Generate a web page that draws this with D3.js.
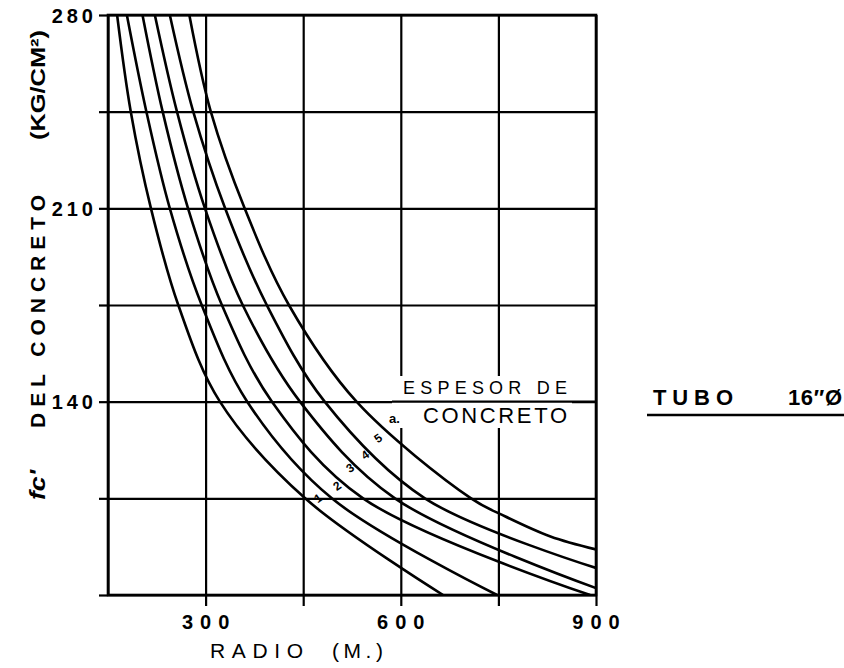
<!DOCTYPE html>
<html><head><meta charset="utf-8">
<script src="https://cdn.jsdelivr.net/npm/d3@7/dist/d3.min.js"></script>
<style>
html,body{margin:0;padding:0;background:#fff;}
svg{display:block;}
text{font-family:"Liberation Sans",Arial,sans-serif;fill:#000;}
</style></head>
<body>
<svg id="chart" width="844" height="668"></svg>
<script>
// ---- data ----
const xTicks = [150, 300, 450, 600, 750, 900];
const xTickLabels = ["", "300", "", "600", "", "900"];
const yTicks = [70, 105, 140, 175, 210, 245, 280];
const yTickLabels = ["", "", "140", "", "210", "", "280"];
// each curve: [radio (m), fc (kg/cm2)]
const curve1 = [[164,280],[185,245],[216,210],[258,175],[322,140],[453,105],[665,70]];
const curve2 = [[179,280],[209,245],[245,210],[294,175],[364,140],[494,105],[748,70]];
const curve3 = [[203,280],[234,245],[273,210],[325,175],[402,140],[542,105],[891,70]];
const curve4 = [[222,280],[256,245],[299,210],[357,175],[445,140],[591,105],[900,72.5]];
const curve5 = [[245,280],[281,245],[330,210],[394,175],[483,140],[637,105],[900,79.8]];
const curve6 = [[275,280],[308,245],[360,210],[428,175],[532,140],[708,105],[760,98.5],[830,91.2],[900,86.5]];
const curves = [curve1, curve2, curve3, curve4, curve5, curve6];
const curveLabels = ["1", "2", "3", "4", "5"];
const curveLabelAt = [[473,105.1],[502,109.5],[522,116],[545,120.7],[565,126.8]];

// ---- layout ----
const svg = d3.select("#chart");
const L = 108, R = 596, T = 15, B = 595;
const x = d3.scaleLinear().domain([150, 900]).range([L, R]);
const y = d3.scaleLinear().domain([70, 280]).range([B, T]);

// grid
const gx = svg.append("g").attr("transform", `translate(0,${B})`)
  .call(d3.axisBottom(x).tickValues(xTicks).tickSize(-(B - T)).tickFormat(""));
gx.select(".domain").remove();
gx.selectAll("line").attr("stroke", "#000").attr("stroke-width", 2.2);
const gy = svg.append("g").attr("transform", `translate(${L},0)`)
  .call(d3.axisLeft(y).tickValues(yTicks).tickSize(-(R - L)).tickFormat(""));
gy.select(".domain").remove();
gy.selectAll("line").attr("stroke", "#000").attr("stroke-width", 2.2);

// outer stubs + labels
const ax = svg.append("g").attr("transform", `translate(0,${B})`)
  .call(d3.axisBottom(x).tickValues(xTicks.slice(1)).tickSize(11).tickPadding(4)
    .tickFormat((d) => xTickLabels[xTicks.indexOf(d)]));
ax.select(".domain").remove();
ax.selectAll("line").attr("stroke", "#000").attr("stroke-width", 2.2);
ax.selectAll("text").attr("font-size", 20).attr("font-weight", "bold")
  .attr("letter-spacing", "7px").attr("dx", "3px").attr("dy", "0.95em");

const ay = svg.append("g").attr("transform", `translate(${L},0)`)
  .call(d3.axisLeft(y).tickValues(yTicks).tickSize(9).tickPadding(2)
    .tickFormat((d) => yTickLabels[yTicks.indexOf(d)]));
ay.select(".domain").remove();
ay.selectAll("line").attr("stroke", "#000").attr("stroke-width", 2.2);
ay.selectAll("text").attr("font-size", 20).attr("font-weight", "bold")
  .attr("letter-spacing", "4px").attr("dy", "0.36em");

// border
svg.append("rect").attr("x", L).attr("y", T).attr("width", R - L).attr("height", B - T)
  .attr("fill", "none").attr("stroke", "#000").attr("stroke-width", 2.6);

// clip
svg.append("clipPath").attr("id", "clip").append("rect")
  .attr("x", L).attr("y", T).attr("width", R - L).attr("height", B - T);

// curves
const line = d3.line().x((d) => x(d[0])).y((d) => y(d[1])).curve(d3.curveCatmullRom.alpha(0.5));
svg.append("g").attr("clip-path", "url(#clip)")
  .selectAll("path").data(curves).join("path")
  .attr("d", line).attr("fill", "none").attr("stroke", "#000").attr("stroke-width", 2.6);

// legend box "ESPESOR DE / CONCRETO"
svg.append("rect").attr("x", 392).attr("y", 376).attr("width", 180).attr("height", 52).attr("fill", "#fff");
svg.append("line").attr("x1", 392).attr("x2", R).attr("y1", y(140)).attr("y2", y(140))
  .attr("stroke", "#000").attr("stroke-width", 2.2);
svg.append("text").attr("x", 403).attr("y", 394).attr("font-size", 18)
  .attr("textLength", 164).attr("lengthAdjust", "spacing").text("ESPESOR DE");
svg.append("text").attr("x", 423).attr("y", 423).attr("font-size", 22)
  .attr("textLength", 144).attr("lengthAdjust", "spacing").text("CONCRETO");
svg.append("text").attr("x", 389).attr("y", 423).attr("font-size", 13).attr("font-weight", "bold").text("a.");

// curve labels
svg.append("g").selectAll("text").data(curveLabels).join("text")
  .attr("transform", (d, i) => `translate(${x(curveLabelAt[i][0])},${y(curveLabelAt[i][1])}) rotate(-35)`)
  .attr("font-size", 12).attr("font-weight", "bold").attr("text-anchor", "middle").attr("dy", "0.35em")
  .text((d) => d);

// axis titles
svg.append("text").attr("x", 210).attr("y", 658).attr("font-size", 21)
  .attr("textLength", 93).attr("lengthAdjust", "spacing").text("RADIO");
svg.append("text").attr("x", 332).attr("y", 658).attr("font-size", 21)
  .attr("textLength", 51).attr("lengthAdjust", "spacing").text("(M.)");

svg.append("text").attr("transform", "translate(45,500) rotate(-90)")
  .attr("font-size", 22).attr("font-weight", "bold").attr("font-style", "italic")
  .attr("textLength", 30).attr("lengthAdjust", "spacingAndGlyphs").text("fc'");
svg.append("text").attr("transform", "translate(45,428) rotate(-90)")
  .attr("font-size", 21).attr("font-weight", "bold")
  .attr("textLength", 233).attr("lengthAdjust", "spacing").text("DEL CONCRETO");
svg.append("text").attr("transform", "translate(45,140) rotate(-90)")
  .attr("font-size", 21).attr("font-weight", "bold")
  .attr("textLength", 110).attr("lengthAdjust", "spacingAndGlyphs").text("(KG/CM²)");

// title
svg.append("text").attr("x", 653).attr("y", 405).attr("font-size", 22).attr("font-weight", "bold")
  .attr("textLength", 80).attr("lengthAdjust", "spacing").text("TUBO");
svg.append("text").attr("x", 788).attr("y", 405).attr("font-size", 22).attr("font-weight", "bold")
  .attr("textLength", 54).attr("lengthAdjust", "spacing").text("16\u2033Ø");
svg.append("line").attr("x1", 647).attr("x2", 844).attr("y1", 415).attr("y2", 415)
  .attr("stroke", "#000").attr("stroke-width", 2.5);
</script>
</body></html>
